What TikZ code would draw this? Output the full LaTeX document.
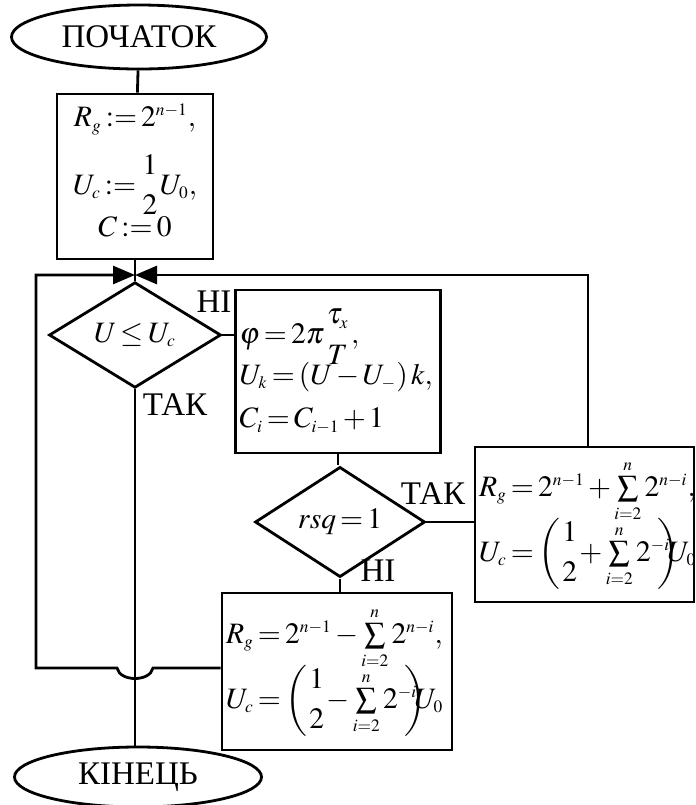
\documentclass[tikz,border=0pt]{standalone}
\usepackage{amsmath}
\usepackage{mathptmx}
\usepackage[no-math]{fontspec}
\setmainfont{Liberation Serif}
\usetikzlibrary{shapes.geometric,arrows.meta}
\DeclareMathSizes{16.5}{14.8}{8.7}{6.5}
\newcommand{\eqline}[1]{\mbox{$\thickmuskip=2.5mu\medmuskip=2mu #1$}}

\begin{document}
\begin{tikzpicture}[x=0.5pt,y=-0.5pt,line width=1.4pt,
	font=\fontsize{16.5}{19.8}\selectfont,
	term/.style={draw,ellipse,inner sep=0pt},
	proc/.style={draw,rectangle,inner sep=2pt},
	cond/.style={draw,diamond,inner sep=0pt},
	lbl/.style={inner sep=0pt},
	>={Triangle[length=11pt,width=9pt]}]
	\useasboundingbox (0,0) rectangle (696,805);
	\node[term,minimum width=127.5pt,minimum height=32pt] (start) at (139,37) {ПОЧАТОК};
	\node[proc,minimum width=78pt,minimum height=82.5pt,align=center] (init) at (135,176.5)
		{\eqline{R_g := 2^{n-1},}\\[9pt]
		\eqline{U_c := \genfrac{}{}{0pt}{0}{1}{2}U_0,}\\[0pt]
		\eqline{C := 0}\rule[-6pt]{0pt}{6pt}};
	\coordinate (merge) at (135,275);
	\node[cond,minimum width=86pt,minimum height=47pt] (dec1) at (135,335) {\eqline{U \le U_c}};
	\node[proc,minimum height=81.5pt,text width=98.5pt,align=left] (calc) at (338,371.5)
		{\eqline{\varphi = 2\pi\genfrac{}{}{0pt}{0}{\tau_x}{T},}\\[-2pt]
		\eqline{U_k = \left(U - U_{-}\right)k,}\\[2pt]
		\eqline{C_i = C_{i-1} + 1}};
	\node[cond,minimum width=85pt,minimum height=46.5pt] (dec2) at (340,522) {\eqline{rsq = 1}};
	\node[proc,minimum height=77.5pt,text width=105.5pt,align=left] (plus) at (584.5,524.5)
		{\eqline{R_g = 2^{n-1} + \sum\limits_{i=2}^{n} 2^{n-i},}\\[-3pt]
		\eqline{U_c = \left(\genfrac{}{}{0pt}{0}{1}{2}\mkern-2mu + \sum\limits_{i=2}^{n} 2^{-i}\mkern-8mu\right)\mkern-9mu U_0}};
	\node[proc,minimum height=78.5pt,text width=111pt,align=left] (minus) at (337,671.5)
		{\eqline{R_g = 2^{n-1} - \sum\limits_{i=2}^{n} 2^{n-i},}\\[-3pt]
		\eqline{U_c = \left(\genfrac{}{}{0pt}{0}{1}{2}\mkern-2mu - \sum\limits_{i=2}^{n} 2^{-i}\mkern-8mu\right)\mkern-9mu U_0}};
	\node[term,minimum width=123.5pt,minimum height=30pt] (finish) at (138,777) {КІНЕЦЬ};
	\node[lbl] (no1) at (214,302) {НІ};
	\node[lbl] (yes1) at (175,405) {ТАК};
	\node[lbl] (yes2) at (433,494) {ТАК};
	\node[lbl] (no2) at (378,571) {НІ};
	\coordinate (rt) at (588,275);
	\coordinate (jr) at (153,668);
	\coordinate (jl) at (117,668);
	\coordinate (lc) at (36,668);
	\coordinate (lt) at (36,275);
	\draw (start) -- (init);
	\draw (init) -- (merge) -- (dec1);
	\draw (dec1.east) -- (dec1.east -| calc.west);
	\draw (calc) -- (calc.south |- dec2.north);
	\draw (dec2.east) -- (dec2.east -| plus.west);
	\draw (dec2.south) -- (dec2.south |- minus.north);
	\draw (dec1.south) -- (dec1.south |- finish.north);
	\draw[->] (rt |- plus.north) -- (rt) -- (merge);
	\draw[->] (minus.west |- jr) -- (jr) .. controls (150,682) and (120,682) .. (jl)
		-- (lc) -- (lt) -- (merge);
\end{tikzpicture}
\end{document}
